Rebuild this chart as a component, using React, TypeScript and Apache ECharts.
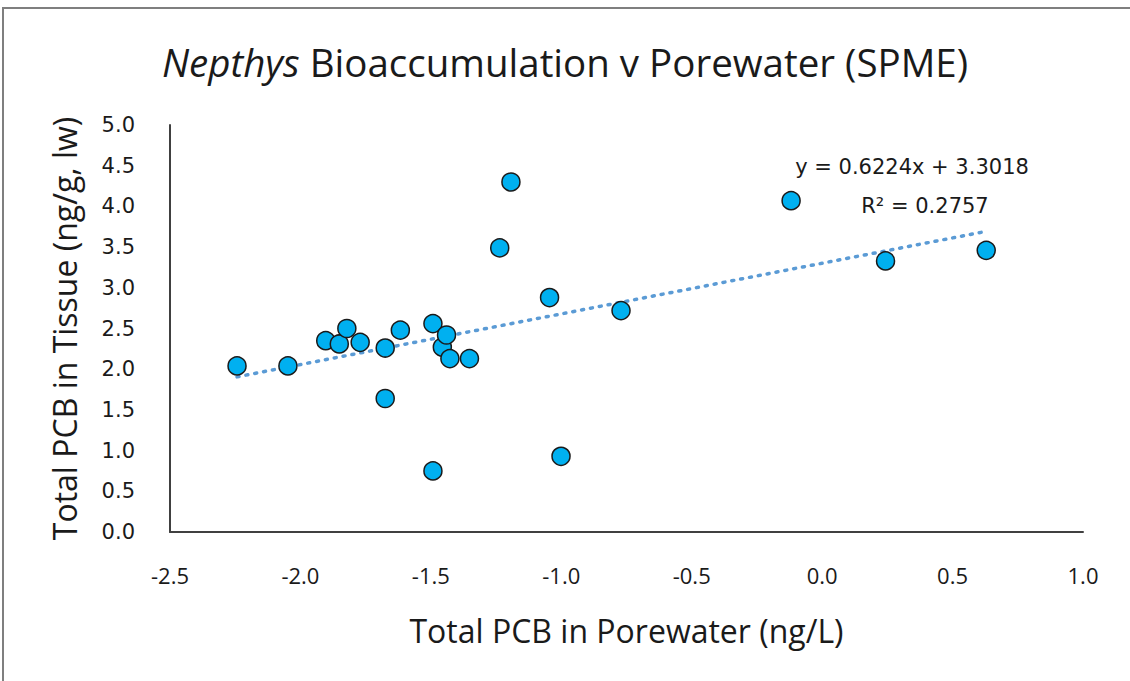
import React, { useEffect, useRef } from "react";
import * as echarts from "echarts";

const porewater = [
  -2.243, -2.048, -1.903, -1.851, -1.822, -1.771, -1.675, -1.675, -1.617, -1.492,
  -1.492, -1.456, -1.440, -1.427, -1.352, -1.236, -1.193, -1.045, -1.001, -0.771,
  -0.119, 0.243, 0.629,
];
const tissue = [
  2.04, 2.04, 2.35, 2.31, 2.50, 2.33, 2.26, 1.64, 2.48, 2.56,
  0.75, 2.27, 2.42, 2.13, 2.13, 3.49, 4.30, 2.88, 0.93, 2.72,
  4.07, 3.33, 3.46,
];
const slope = 0.6224;
const intercept = 3.3018;
const rSquared = 0.2757;

const xName = "Total PCB in Porewater (ng/L)";
const yName = "Total PCB in Tissue (ng/g, lw)";

export default function App() {
  const ref = useRef<HTMLDivElement>(null);
  useEffect(() => {
    if (!ref.current) return;
    const chart = echarts.init(ref.current, null, { renderer: "svg" });
    const points = porewater.map((x, i) => [x, tissue[i]]);
    const xmin = Math.min(...porewater);
    const xmax = Math.max(...porewater);
    const trend = [
      [xmin, slope * xmin + intercept],
      [xmax, slope * xmax + intercept],
    ];
    const narrow = "'Liberation Sans Narrow', 'Open Sans', sans-serif";
    const wide = "'DejaVu Sans', sans-serif";
    chart.setOption({
      animation: false,
      backgroundColor: "#ffffff",
      title: {
        text: "{i|Nepthys}{n| Bioaccumulation v Porewater (SPME)}",
        left: "center",
        top: 37,
        textStyle: {
          fontWeight: "normal",
          rich: {
            i: { fontFamily: narrow, fontSize: 38.5, fontStyle: "italic", fontWeight: "normal", color: "#1a1a1a" },
            n: { fontFamily: narrow, fontSize: 38.5, fontWeight: "normal", color: "#1a1a1a" },
          },
        },
      },
      grid: { left: 170, top: 125, right: 47, bottom: 149 },
      xAxis: {
        type: "value",
        min: -2.5,
        max: 1.0,
        interval: 0.5,
        name: xName,
        nameLocation: "middle",
        nameGap: 82,
        nameTextStyle: { fontFamily: narrow, fontSize: 32, color: "#1a1a1a" },
        splitLine: { show: false },
        axisTick: { show: false },
        axisLine: { show: true, onZero: false, lineStyle: { color: "#404040", width: 2 } },
        axisLabel: {
          margin: 32,
          fontFamily: narrow,
          fontSize: 22,
          color: "#1a1a1a",
          formatter: (v: number) => v.toFixed(1),
        },
      },
      yAxis: {
        type: "value",
        min: 0,
        max: 5.0,
        interval: 0.5,
        name: yName,
        nameLocation: "middle",
        nameGap: 90,
        nameTextStyle: { fontFamily: narrow, fontSize: 32, color: "#1a1a1a" },
        splitLine: { show: false },
        axisTick: { show: false },
        axisLine: { show: true, onZero: false, lineStyle: { color: "#404040", width: 2 } },
        axisLabel: {
          margin: 35,
          fontFamily: wide,
          fontSize: 21,
          color: "#1a1a1a",
          formatter: (v: number) => v.toFixed(1),
        },
      },
      graphic: [
        {
          type: "rect",
          shape: { x: 3, y: 8, width: 1140, height: 700 },
          style: { fill: "none", stroke: "#7f7f7f", lineWidth: 2 },
          silent: true,
        },
        {
          type: "text",
          x: 912,
          y: 167,
          style: {
            text: `y = ${slope.toFixed(4)}x + ${intercept.toFixed(4)}`,
            fontFamily: wide,
            fontSize: 21,
            fill: "#1a1a1a",
            align: "center",
            verticalAlign: "middle",
          },
        },
        {
          type: "text",
          x: 925,
          y: 206,
          style: {
            text: `R² = ${rSquared.toFixed(4)}`,
            fontFamily: wide,
            fontSize: 21,
            fill: "#1a1a1a",
            align: "center",
            verticalAlign: "middle",
          },
        },
      ],
      series: [
        {
          type: "line",
          data: trend,
          symbol: "none",
          lineStyle: { color: "#5B9BD5", width: 3.5, type: [2, 7], cap: "round" },
          z: 1,
        },
        {
          type: "scatter",
          data: points,
          symbol: "circle",
          symbolSize: 18,
          itemStyle: { color: "#00B0F0", borderColor: "#1a1a1a", borderWidth: 1.5, opacity: 1 },
          z: 2,
        },
      ],
    });
    return () => chart.dispose();
  }, []);
  return (
    <div
      ref={ref}
      style={{ position: "absolute", left: 0, top: 0, width: 1130, height: 681 }}
    />
  );
}
